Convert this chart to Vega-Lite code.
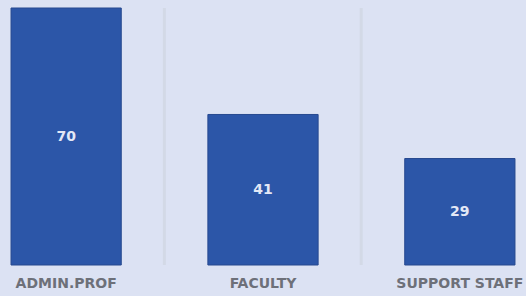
{
  "$schema": "https://vega.github.io/schema/vega-lite/v6.json",
  "width": 526,
  "height": 257,
  "autosize": "none",
  "padding": {"top": 8, "left": 0, "right": 0, "bottom": 31},
  "background": "#dce2f3",
  "config": {"view": {"stroke": null}},
  "data": {"values": [
    {"category": "ADMIN.PROF", "value": 70},
    {"category": "FACULTY", "value": 41},
    {"category": "SUPPORT STAFF", "value": 29}
  ]},
  "encoding": {
    "x": {"field": "category", "type": "nominal", "sort": null,
      "scale": {"domain": ["ADMIN.PROF", "FACULTY", "SUPPORT STAFF"], "paddingInner": 0.44, "paddingOuter": 0.056},
      "axis": {"title": null, "domain": false, "ticks": false, "grid": false, "labelAngle": 0,
        "labelFont": "DejaVu Sans", "labelFontWeight": "bold", "labelFontSize": 14,
        "labelColor": "#6d7079", "labelPadding": 11}}
  },
  "layer": [
    {
      "data": {"values": [{"category": "FACULTY"}, {"category": "SUPPORT STAFF"}]},
      "mark": {"type": "rule", "color": "#d3d9e6", "strokeWidth": 3},
      "encoding": {"x": {"field": "category", "type": "nominal", "bandPosition": -0.395}}
    },
    {
      "mark": {"type": "bar", "color": "#2c56a8", "stroke": "#27498f", "strokeWidth": 1},
      "encoding": {"y": {"field": "value", "type": "quantitative", "scale": {"domain": [0, 70], "nice": false}, "axis": null}}
    },
    {
      "transform": [{"calculate": "datum.value / 2", "as": "mid"}],
      "mark": {"type": "text", "color": "#e3e8f6", "font": "DejaVu Sans", "fontWeight": "bold", "fontSize": 14, "baseline": "middle"},
      "encoding": {
        "y": {"field": "mid", "type": "quantitative", "scale": {"domain": [0, 70], "nice": false}},
        "text": {"field": "value", "type": "quantitative"}
      }
    }
  ]
}
